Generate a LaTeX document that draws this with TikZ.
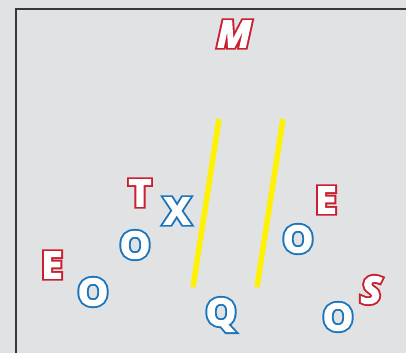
\documentclass[tikz,border=0pt]{standalone}
\usepackage{fontspec}
\setmainfont{Open Sans}
\usepackage{tikz}
\usetikzlibrary{positioning}

\definecolor{fieldgray}{HTML}{E1E2E4}
\definecolor{lineyellow}{HTML}{FFF200}

% white letter, coloured outline (text render mode 2): wide coloured stroke, then white on top
\newcommand{\outltr}[2]{\rlap{\textcolor{white}{\special{pdf:literal direct 2 Tr 5 w #1 RG}#2}}%
  \textcolor{white}{\special{pdf:literal direct 2 Tr 1.3 w}#2\special{pdf:literal direct 0 Tr}}}
\newcommand{\redltr}[1]{\outltr{0.784 0.125 0.184}{#1}}
\newcommand{\blueltr}[1]{\outltr{0.106 0.459 0.733}{#1}}

\begin{document}
\begin{tikzpicture}[x=1pt, y=-1pt,
	letter/.style={inner sep=0pt, xscale=1.04, font=\fontsize{37}{42}\selectfont\bfseries},
	slanted/.style={letter, font=\fontsize{37}{42}\selectfont\bfseries\itshape}]
			% --- Feld ---
			\fill[fieldgray] (0,0) rectangle (406,353);
			\useasboundingbox (0,0) rectangle (406,353);
			\draw[black!78, line width=1.2pt] (16,353) -- (16,9) -- (406,9);
			
			% --- Linien ---
			\draw[lineyellow, line width=5.5pt] (219,119) -- (193,287);
			\draw[lineyellow, line width=5.5pt] (283,119) -- (257,287);
			
			% --- rote Buchstaben ---
			\node[slanted] (m) at (234,34) {\redltr{M}};
			\node[letter] (t) at (140,193) {\redltr{T}};
			\node[letter] (eleft) at (52,265) {\redltr{E}};
			\node[letter] (eright) at (326,200) {\redltr{E}};
			\node[slanted] (s) at (371,290) {\redltr{S}};
			
			% --- blaue Buchstaben ---
			\node[letter] (x) at (177,211) {\blueltr{X}};
			\node[letter] (oupper) at (135,245) {\blueltr{O}};
			\node[letter] (olower) at (93,292) {\blueltr{O}};
			\node[letter] (q) at (221,315) {\blueltr{Q}};
			\node[letter] (oright) at (298,239) {\blueltr{O}};
			\node[letter] (ocorner) at (338,317) {\blueltr{O}};
		\end{tikzpicture}
\end{document}
